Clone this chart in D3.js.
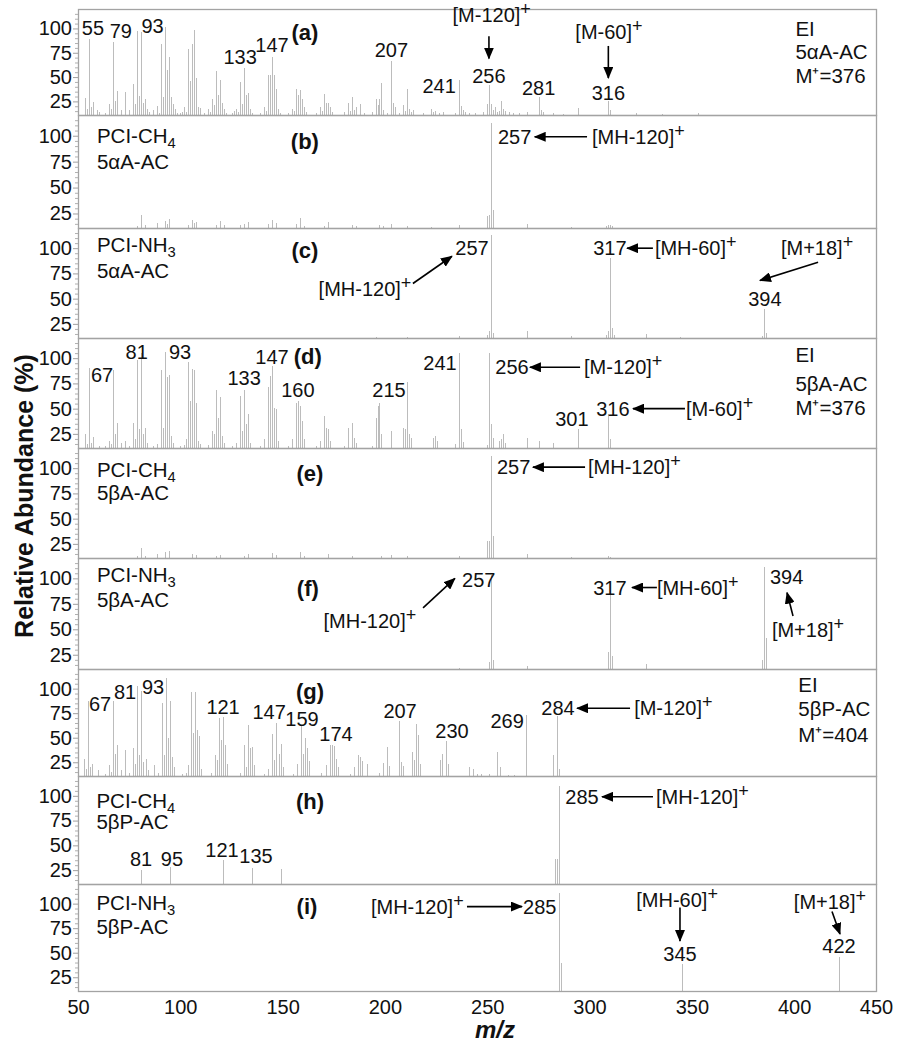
<!DOCTYPE html>
<html>
<head>
<meta charset="utf-8">
<script src="https://cdn.jsdelivr.net/npm/d3@7"></script>
<style>
    body { margin: 0; background: #fff; }
    svg text { font-family: "Liberation Sans", Arial, sans-serif; fill: #111; }
</style>
</head>
<body>
<svg id="chart"></svg>
<script>
const width = 900, height = 1042;

// ---- spectra: [m/z, relative abundance %] ----
const eiAlpha = [[53,28],[54,17],[55,89],[56,19],[57,24],[59,16],[60,14],[63,13],[65,22],[66,17],[67,86],[68,25],[69,36],[71,16],[73,35],[75,16],[77,43],[78,22],[79,97],[80,31],[81,96],[82,23],[83,27],[84,17],[85,14],[87,16],[89,20],[90,13],[91,84],[92,29],[93,102],[94,57],[95,71],[96,30],[97,22],[98,17],[99,13],[101,13],[102,14],[103,19],[104,14],[105,79],[106,46],[107,84],[108,98],[109,49],[110,19],[111,18],[113,13],[115,17],[116,14],[117,27],[118,21],[119,56],[120,32],[121,47],[122,23],[123,17],[124,13],[127,13],[128,15],[129,17],[130,14],[131,45],[132,22],[133,59],[134,32],[135,34],[136,17],[137,13],[141,13],[143,19],[144,15],[145,52],[146,52],[147,71],[148,52],[149,38],[150,17],[151,13],[155,13],[157,17],[158,15],[159,38],[160,32],[161,37],[162,27],[163,19],[164,14],[169,13],[171,19],[172,15],[173,33],[174,23],[175,23],[176,19],[177,14],[183,14],[185,23],[186,15],[187,30],[188,16],[189,19],[191,22],[193,13],[197,14],[199,27],[200,21],[201,27],[202,44],[203,16],[205,13],[207,67],[208,23],[209,19],[211,13],[213,21],[214,15],[215,38],[216,17],[217,14],[218,16],[223,13],[227,17],[228,14],[229,15],[231,13],[233,14],[239,13],[241,47],[242,20],[243,16],[244,14],[246,13],[249,13],[253,14],[255,22],[256,42],[257,22],[258,16],[259,19],[260,14],[261,15],[262,25],[263,17],[264,15],[266,14],[268,13],[271,13],[275,14],[281,29],[282,16],[283,14],[288,13],[293,12],[301,18],[316,25],[317,16],[330,13],[343,12],[361,13]];
const ch4Alpha = [[79,13],[81,24],[83,14],[89,16],[93,18],[94,15],[95,20],[105,14],[107,19],[108,16],[109,17],[119,14],[121,18],[123,14],[131,14],[133,15],[135,17],[145,15],[147,19],[149,16],[159,15],[161,21],[163,13],[173,13],[175,17],[187,14],[189,13],[201,14],[203,13],[207,15],[215,13],[227,12],[241,14],[255,23],[256,24],[257,112],[258,28],[275,15],[297,12],[315,13],[316,14],[317,14],[318,13]];
const nh3Alpha = [[199,12],[215,12],[241,13],[255,14],[256,18],[257,113],[258,16],[275,18],[297,13],[315,14],[316,18],[317,90],[318,21],[319,14],[335,15],[352,12],[393,13],[394,40],[395,16]];
const eiBeta = [[53,25],[54,15],[55,90],[56,16],[57,22],[60,13],[63,13],[65,18],[66,15],[67,88],[68,25],[69,36],[71,16],[73,18],[75,13],[77,36],[78,20],[79,98],[80,30],[81,105],[82,25],[83,31],[84,16],[87,13],[89,15],[91,88],[92,31],[93,106],[94,81],[95,83],[96,23],[97,16],[101,13],[103,14],[104,20],[105,96],[106,58],[107,89],[108,88],[109,56],[110,18],[111,15],[115,14],[117,28],[118,25],[119,68],[120,41],[121,62],[122,23],[123,16],[127,13],[129,16],[131,63],[132,28],[133,68],[134,35],[135,45],[136,16],[141,13],[143,20],[145,71],[146,82],[147,92],[148,51],[149,50],[150,18],[155,13],[157,20],[159,56],[160,58],[161,53],[162,38],[163,20],[169,13],[171,18],[173,43],[174,31],[175,30],[176,18],[183,13],[185,31],[187,36],[188,21],[189,16],[197,13],[199,41],[200,53],[201,56],[202,25],[207,28],[213,31],[214,30],[215,76],[216,25],[217,21],[228,21],[229,23],[230,18],[239,15],[241,105],[242,30],[243,17],[255,14],[256,105],[257,35],[258,21],[261,18],[262,20],[263,25],[264,16],[275,21],[281,18],[288,16],[301,30],[316,45],[317,20]];
const ch4Beta = [[79,13],[81,21],[83,13],[89,15],[93,17],[95,18],[107,15],[109,14],[119,13],[121,14],[133,13],[135,15],[147,16],[149,14],[161,17],[163,13],[175,15],[187,13],[202,13],[207,14],[215,13],[241,13],[255,28],[256,28],[257,112],[258,33],[275,15],[297,12],[316,13],[317,12]];
const nh3Beta = [[241,12],[256,18],[257,103],[258,20],[275,14],[316,28],[317,85],[318,24],[335,16],[393,20],[394,111],[395,41]];
const eiPreg = [[53,28],[54,18],[55,87],[56,20],[57,23],[60,17],[63,13],[65,22],[66,15],[67,87],[68,33],[69,43],[71,17],[73,37],[75,14],[77,40],[78,23],[79,103],[80,32],[81,98],[82,25],[83,28],[84,17],[87,22],[89,14],[91,85],[92,32],[93,111],[94,50],[95,87],[96,30],[97,20],[101,13],[103,14],[104,22],[105,97],[106,55],[107,97],[108,58],[109,52],[110,18],[115,14],[117,32],[118,27],[119,70],[120,48],[121,71],[122,43],[123,23],[129,14],[131,43],[132,20],[133,63],[134,40],[135,41],[136,22],[141,13],[143,18],[145,54],[146,27],[147,65],[148,33],[149,44],[150,20],[155,13],[157,23],[159,62],[160,33],[161,50],[162,40],[163,26],[169,14],[171,22],[173,43],[174,43],[175,42],[176,28],[177,20],[183,13],[185,20],[187,32],[188,30],[189,26],[191,23],[197,14],[199,24],[201,41],[202,21],[207,67],[208,25],[209,21],[213,35],[214,27],[215,64],[216,53],[217,23],[227,27],[228,33],[230,47],[231,23],[241,20],[243,18],[245,13],[247,13],[251,13],[255,35],[256,20],[260,12],[263,12],[269,73],[282,32],[284,72],[285,18]];
const ch4Preg = [[81,25],[95,28],[121,35],[135,27],[149,26],[283,36],[284,36],[285,110]];
const nh3Preg = [[285,111],[286,40],[345,38],[422,46]];

// ---- text labels: [text, m/z, abundance, anchor] (^ = superscript, _ = subscript) ----
const labelsA = [["55",57,100],["79",71,97],["93",87,103],["133",131,71],["147",147,83],["207",207,78],["241",231,41],["[M-120]^+",257.4,114],["256",256,51],["281",281,39],["[M-60]^+",316.3,96],["316",316,34]];
const labelsB = [["257",260.5,99,"start"],["[MH-120]^+",307.8,99,"start"]];
const labelsC = [["[MH-120]^+",193.7,60],["257",247.5,100],["317",316.8,100],["[MH-60]^+",339.4,100,"start"],["[M+18]^+",420.9,100],["394",394.7,50]];
const labelsD = [["67",61.6,83],["81",79,106],["93",100.8,106],["133",133,80],["147",147,101],["160",160,68],["215",205.8,68],["241",231.4,95],["256",267.6,91],["[M-120]^+",303.8,91,"start"],["301",297.7,40],["316",318.3,50],["[M-60]^+",355,50,"start"]];
const labelsE = [["257",260,101,"start"],["[MH-120]^+",305.8,101,"start"]];
const labelsF = [["[MH-120]^+",196.2,58],["257",242.5,98,"start"],["317",316.8,91],["[MH-60]^+",340.4,91,"start"],["394",397.2,101,"start"],["[M+18]^+",398.2,49,"start"]];
const labelsG = [["67",60.8,84],["81",73,97],["93",86.7,102],["121",120.9,81],["147",143.4,76],["159",159.5,69],["174",176.1,54],["207",207.4,77],["230",232.8,57],["269",259.7,67],["284",284.6,80],["[M-120]^+",321.8,80,"start"]];
const labelsH = [["81",80.8,36],["95",95.9,36],["121",120.4,45],["135",137,39],["285",296.3,99],["[MH-120]^+",332.5,99,"start"]];
const labelsI = [["[MH-120]^+",238.5,97,"end"],["285",267.5,97,"start"],["[MH-60]^+",342.8,104],["345",344.2,49],["[M+18]^+",417.5,102],["422",421.9,57]];

// ---- arrows: [m/z from, abundance from, m/z to, abundance to] ----
const arrowsA = [[256,92,256,69],[316,82,316,49]];
const arrowsB = [[305.3,99,279,99]];
const arrowsC = [[217.8,65,237.4,92],[338.4,100,325.4,100],[421.4,86,392.2,68]];
const arrowsD = [[301.8,91,276.6,91],[354.5,50,328.4,50]];
const arrowsE = [[304.3,101,278.1,101]];
const arrowsF = [[222.9,71,238.9,100],[340.4,91,327.9,91],[408.8,63,405.8,86]];
const arrowsG = [[319.8,80,293.9,80]];
const arrowsH = [[331,99,306.1,99]];
const arrowsI = [[240.1,97,267,97],[344.2,96,344.2,62],[418.5,92,422.4,69]];

// ---- ionisation mode / compound captions ----
const infoA = [["EI",100],["5αA-AC",76],["M⁺=376",51]];
const infoB = [["PCI-CH_4",100],["5αA-AC",75]];
const infoC = [["PCI-NH_3",103],["5αA-AC",78]];
const infoD = [["EI",103],["5βA-AC",75],["M⁺=376",51]];
const infoE = [["PCI-CH_4",98],["5βA-AC",76]];
const infoF = [["PCI-NH_3",103],["5βA-AC",79]];
const infoG = [["EI",104],["5βP-AC",79],["M⁺=404",53]];
const infoH = [["PCI-CH_4",95],["5βP-AC",74]];
const infoI = [["PCI-NH_3",101],["5βP-AC",76]];

const panelLetters = ["(a)","(b)","(c)","(d)","(e)","(f)","(g)","(h)","(i)"];
const letterPos = [[163.5,96],[163.5,95],[163.5,98],[165,102],[166,95],[165,90],[163.4,97],[163.4,94],[161.9,97]];
const yTicks = [25, 50, 75, 100];
const xTicks = [50, 100, 150, 200, 250, 300, 350, 400, 450];

const panels = [
    { peaks: eiAlpha,  labels: labelsA, arrows: arrowsA, info: infoA, infoMz: 410 },
    { peaks: ch4Alpha, labels: labelsB, arrows: arrowsB, info: infoB, infoMz: 59 },
    { peaks: nh3Alpha, labels: labelsC, arrows: arrowsC, info: infoC, infoMz: 59 },
    { peaks: eiBeta,   labels: labelsD, arrows: arrowsD, info: infoD, infoMz: 410 },
    { peaks: ch4Beta,  labels: labelsE, arrows: arrowsE, info: infoE, infoMz: 59 },
    { peaks: nh3Beta,  labels: labelsF, arrows: arrowsF, info: infoF, infoMz: 59 },
    { peaks: eiPreg,   labels: labelsG, arrows: arrowsG, info: infoG, infoMz: 402 },
    { peaks: ch4Preg,  labels: labelsH, arrows: arrowsH, info: infoH, infoMz: 59 },
    { peaks: nh3Preg,  labels: labelsI, arrows: arrowsI, info: infoI, infoMz: 59 }
];

// layout
const frameLeft = 78, frameRight = 876;
const panelTops = [9, 115, 228, 338, 448, 558, 669, 776, 884, 991];
const fontSize = 20;

// the androstane panels (a-f) and pregnane panels (g-i) were plotted on slightly different m/z ranges
const xAndro = d3.scaleLinear().domain([50, 450]).range([79, 875]);
const xPreg = d3.scaleLinear().domain([50, 440]).range([frameLeft, frameRight]).clamp(true);

const svg = d3.select("#chart")
    .attr("width", width)
    .attr("height", height);

// arrow head
svg.append("defs").append("marker")
    .attr("id", "head")
    .attr("viewBox", "0 0 12 10")
    .attr("refX", 11)
    .attr("refY", 5)
    .attr("markerWidth", 12)
    .attr("markerHeight", 10)
    .attr("markerUnits", "userSpaceOnUse")
    .attr("orient", "auto")
    .append("path")
    .attr("d", "M0,0L12,5L0,10Z")
    .attr("fill", "#000");

// text with ^super and _sub pieces
function addText(sel, str, xp, yp, anchor, size) {
    const t = sel.append("text")
        .attr("x", xp)
        .attr("y", yp)
        .attr("dy", "0.35em")
        .attr("text-anchor", anchor || "middle")
        .attr("font-size", size || fontSize);
    str.split(/([\^_].)/).forEach(s => {
        if (!s) return;
        if (s[0] === "^") {
            t.append("tspan").attr("baseline-shift", "40%").attr("font-size", "0.9em").text(s[1]);
        } else if (s[0] === "_") {
            t.append("tspan").attr("baseline-shift", "-35%").attr("font-size", "0.72em").text(s[1]);
        } else {
            t.append("tspan").text(s);
        }
    });
    return t;
}

const minorTicks = d3.range(15, 120, 5).filter(v => v % 25 !== 0);

panels.forEach((p, i) => {
    const top = panelTops[i], bottom = panelTops[i + 1];
    const x = i < 6 ? xAndro : xPreg;
    const y = d3.scaleLinear().domain([11, 120]).range([bottom, top]);
    const g = svg.append("g").attr("class", "panel");

    // spectrum sticks
    g.append("g")
        .selectAll("line")
        .data(p.peaks)
        .join("line")
        .attr("x1", d => Math.round(x(d[0])) + 0.5)
        .attr("x2", d => Math.round(x(d[0])) + 0.5)
        .attr("y1", y(11))
        .attr("y2", d => y(d[1]))
        .attr("stroke", "#bcbcbc")
        .attr("stroke-width", 1)
        .attr("shape-rendering", "crispEdges");

    // frame
    g.append("rect")
        .attr("x", frameLeft + 0.5)
        .attr("y", top + 0.5)
        .attr("width", frameRight - frameLeft)
        .attr("height", bottom - top)
        .attr("fill", "none")
        .attr("stroke", "#a3a3a3")
        .attr("stroke-width", 1.3);

    // y axis: minor and major ticks
    const minor = g.append("g")
        .attr("transform", `translate(${frameLeft},0)`)
        .call(d3.axisLeft(y).tickValues(minorTicks).tickSize(3).tickFormat(""));
    minor.select(".domain").remove();
    minor.selectAll("line").attr("stroke", "#b0b0b0");

    const major = g.append("g")
        .attr("transform", `translate(${frameLeft},0)`)
        .call(d3.axisLeft(y).tickValues(yTicks).tickSize(5).tickPadding(1));
    major.select(".domain").remove();
    major.selectAll("line").attr("stroke", "#a0a0a0");
    major.attr("font-size", fontSize).attr("font-family", null);
    major.selectAll("text").attr("fill", "#111");

    // arrows
    g.append("g")
        .selectAll("line")
        .data(p.arrows)
        .join("line")
        .attr("x1", d => x(d[0]))
        .attr("y1", d => y(d[1]))
        .attr("x2", d => x(d[2]))
        .attr("y2", d => y(d[3]))
        .attr("stroke", "#000")
        .attr("stroke-width", 1.6)
        .attr("marker-end", "url(#head)");

    // peak / ion labels
    p.labels.forEach(l => addText(g, l[0], x(l[1]), y(l[2]), l[3]));

    // captions
    p.info.forEach(l => addText(g, l[0], x(p.infoMz), y(l[1]), "start", 20.5));

    // panel letter
    addText(g, panelLetters[i], x(letterPos[i][0]), y(letterPos[i][1]), "middle", 22)
        .attr("font-weight", "bold");
});

// bottom m/z axis
const xAxis = svg.append("g")
    .attr("transform", `translate(0,${panelTops[9]})`)
    .call(d3.axisBottom(xPreg).tickValues(xTicks).tickSize(0).tickPadding(9));
xAxis.select(".domain").remove();
xAxis.attr("font-size", fontSize).attr("font-family", null);
xAxis.selectAll("text").attr("fill", "#111");

svg.append("text")
    .attr("x", 495)
    .attr("y", 1030)
    .attr("dy", "0.35em")
    .attr("text-anchor", "middle")
    .attr("font-size", 24)
    .attr("font-weight", "bold")
    .attr("font-style", "italic")
    .text("m/z");

svg.append("text")
    .attr("transform", "translate(24,496) rotate(-90)")
    .attr("dy", "0.35em")
    .attr("text-anchor", "middle")
    .attr("font-size", 25)
    .attr("font-weight", "bold")
    .text("Relative Abundance (%)");
</script>
</body>
</html>
